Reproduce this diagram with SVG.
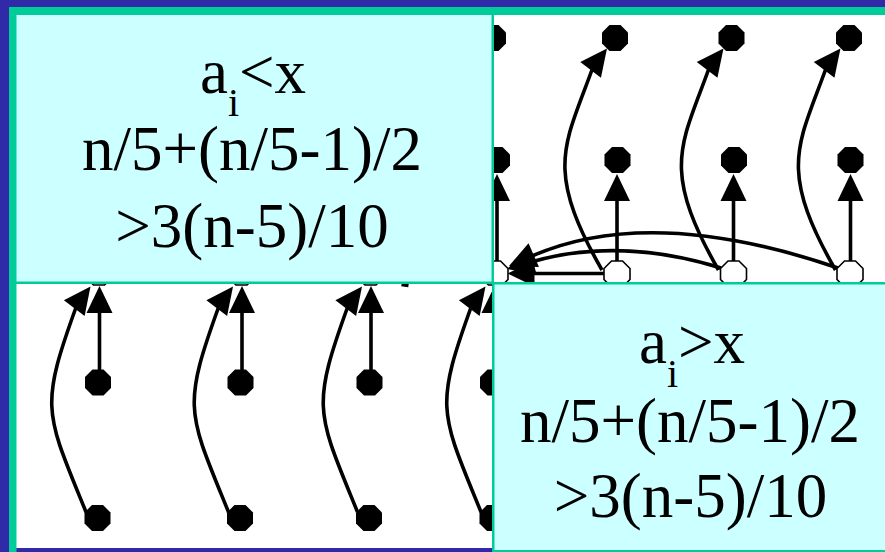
<svg xmlns="http://www.w3.org/2000/svg" width="885" height="552" viewBox="0 0 885 552">
<style>
.txt{font-family:"Liberation Serif","Times New Roman",serif;font-size:63px;fill:#000;text-anchor:middle}
.sub{font-size:40px}
.edge{fill:none;stroke:#000;stroke-width:3.6}
.bd{fill:#000}
.wn{fill:#fff;stroke:#000;stroke-width:1.6}
.ah{fill:#000}
</style>
<defs>
<polygon id="oct" points="13,5.5 5.5,13 -5.5,13 -13,5.5 -13,-5.5 -5.5,-13 5.5,-13 13,-5.5"/>
<path id="ah" d="M0,0 L-27,-13 L-27,13 Z"/>
<clipPath id="clipTR"><rect x="494" y="15" width="391" height="267"/></clipPath>
<clipPath id="clipBL"><rect x="16.5" y="284" width="475.5" height="264"/></clipPath>
</defs>

<!-- frame -->
<rect x="0" y="0" width="885" height="552" fill="#302AA8"/>
<rect x="9" y="7" width="876" height="545" fill="#00CC99"/>
<rect x="16.5" y="15" width="475" height="266.5" fill="#CCFFFF"/>
<rect x="494" y="15" width="391" height="267" fill="#FFFFFF"/>
<rect x="16.5" y="284" width="475.5" height="264" fill="#FFFFFF"/>
<rect x="16.5" y="548" width="475.5" height="4" fill="#302AA8"/>
<rect x="494.5" y="284.5" width="390.5" height="265.5" fill="#CCFFFF"/>

<!-- top-left text panel -->
<g id="panel-lt">
<text class="txt" x="253" y="93">a<tspan class="sub" dy="23">i</tspan><tspan dy="-23">&lt;x</tspan></text>
<text class="txt" x="252" y="170">n/5+(n/5-1)/2</text>
<text class="txt" x="252" y="247">&gt;3(n-5)/10</text>
</g>

<!-- bottom-right text panel -->
<g id="panel-gt">
<text class="txt" x="692" y="363">a<tspan class="sub" dy="24">i</tspan><tspan dy="-24">&gt;x</tspan></text>
<text class="txt" x="690" y="442">n/5+(n/5-1)/2</text>
<text class="txt" x="690.5" y="517">&gt;3(n-5)/10</text>
</g>

<!-- top-right graph -->
<g id="graph-tr" clip-path="url(#clipTR)">
<g id="edges-tr">
<path class="edge" d="M497 261 V198"/>
<use href="#ah" class="ah" transform="translate(497,174) rotate(-90)"/>
<path class="edge" d="M617 261 V198"/>
<use href="#ah" class="ah" transform="translate(617,174) rotate(-90)"/>
<path class="edge" d="M733.5 261 V198"/>
<use href="#ah" class="ah" transform="translate(733.5,174) rotate(-90)"/>
<path class="edge" d="M850.5 261 V198"/>
<use href="#ah" class="ah" transform="translate(850.5,174) rotate(-90)"/>
<path class="edge" d="M602 270 C543.5 168 565 145 593 67"/>
<use href="#ah" class="ah" transform="translate(607,48.5) rotate(-52.6)"/>
<path class="edge" d="M718.5 270 C660 168 681.5 145 709.5 67"/>
<use href="#ah" class="ah" transform="translate(723.5,48.5) rotate(-52.6)"/>
<path class="edge" d="M835.5 270 C777 168 798.5 145 826.5 67"/>
<use href="#ah" class="ah" transform="translate(840.5,48.5) rotate(-52.6)"/>
<path class="edge" d="M604 273.5 H532"/>
<use href="#ah" class="ah" transform="translate(507.5,273.5) rotate(180)"/>
<path class="edge" d="M721 268 Q619.5 236.5 531 262"/>
<use href="#ah" class="ah" transform="translate(507,269) rotate(163.9)"/>
<path class="edge" d="M838 268 Q651 204 532 256"/>
<use href="#ah" class="ah" transform="translate(509,266) rotate(156.4)"/>
</g>
<g id="tr-top-0"><use href="#oct" class="bd" x="493" y="38"/></g>
<g id="tr-top-1"><use href="#oct" class="bd" x="615" y="38"/></g>
<g id="tr-top-2"><use href="#oct" class="bd" x="731.5" y="38"/></g>
<g id="tr-top-3"><use href="#oct" class="bd" x="849" y="38"/></g>
<g id="tr-mid-0"><use href="#oct" class="bd" x="497" y="160"/></g>
<g id="tr-mid-1"><use href="#oct" class="bd" x="617.5" y="160"/></g>
<g id="tr-mid-2"><use href="#oct" class="bd" x="734" y="160"/></g>
<g id="tr-mid-3"><use href="#oct" class="bd" x="850.5" y="160"/></g>
<g id="tr-low-0"><use href="#oct" class="wn" x="495" y="274"/></g>
<g id="tr-low-1"><use href="#oct" class="wn" x="617" y="274"/></g>
<g id="tr-low-2"><use href="#oct" class="wn" x="733.5" y="274"/></g>
<g id="tr-low-3"><use href="#oct" class="wn" x="850" y="274"/></g>
</g>

<!-- bottom-left graph -->
<g id="graph-bl" clip-path="url(#clipBL)">
<g id="edges-bl">
<path class="edge" d="M99.5 370 V311"/>
<use href="#ah" class="ah" transform="translate(99.5,286) rotate(-90)"/>
<path class="edge" d="M86 512 C45 411.5 39.5 408 76.5 306"/>
<use href="#ah" class="ah" transform="translate(90.5,286.5) rotate(-53)"/>
<path class="edge" d="M242 370 V311"/>
<use href="#ah" class="ah" transform="translate(242,286) rotate(-90)"/>
<path class="edge" d="M228.5 512 C187.5 411.5 182 408 219 306"/>
<use href="#ah" class="ah" transform="translate(233,286.5) rotate(-53)"/>
<path class="edge" d="M371 370 V311"/>
<use href="#ah" class="ah" transform="translate(371,286) rotate(-90)"/>
<path class="edge" d="M357.5 512 C316.5 411.5 311 408 348 306"/>
<use href="#ah" class="ah" transform="translate(362,286.5) rotate(-53)"/>
<path class="edge" d="M494.5 370 V311"/>
<use href="#ah" class="ah" transform="translate(494.5,286) rotate(-90)"/>
<path class="edge" d="M481 512 C440 411.5 434.5 408 471.5 306"/>
<use href="#ah" class="ah" transform="translate(485.5,286.5) rotate(-53)"/>
<path class="edge" d="M401.5 284.5 L408.5 285.5"/>
</g>
<g id="bl-top-0"><use href="#oct" class="wn" x="99" y="272"/></g>
<g id="bl-top-1"><use href="#oct" class="wn" x="241.5" y="272"/></g>
<g id="bl-top-2"><use href="#oct" class="wn" x="370.5" y="272"/></g>
<g id="bl-top-3"><use href="#oct" class="wn" x="494" y="272"/></g>
<g id="bl-mid-0"><use href="#oct" class="bd" x="98" y="382.5"/></g>
<g id="bl-mid-1"><use href="#oct" class="bd" x="240.5" y="382.5"/></g>
<g id="bl-mid-2"><use href="#oct" class="bd" x="369.5" y="382.5"/></g>
<g id="bl-mid-3"><use href="#oct" class="bd" x="493" y="382.5"/></g>
<g id="bl-bot-0"><use href="#oct" class="bd" x="97.5" y="518"/></g>
<g id="bl-bot-1"><use href="#oct" class="bd" x="240" y="518"/></g>
<g id="bl-bot-2"><use href="#oct" class="bd" x="369" y="518"/></g>
<g id="bl-bot-3"><use href="#oct" class="bd" x="492.5" y="518"/></g>
</g>
</svg>
